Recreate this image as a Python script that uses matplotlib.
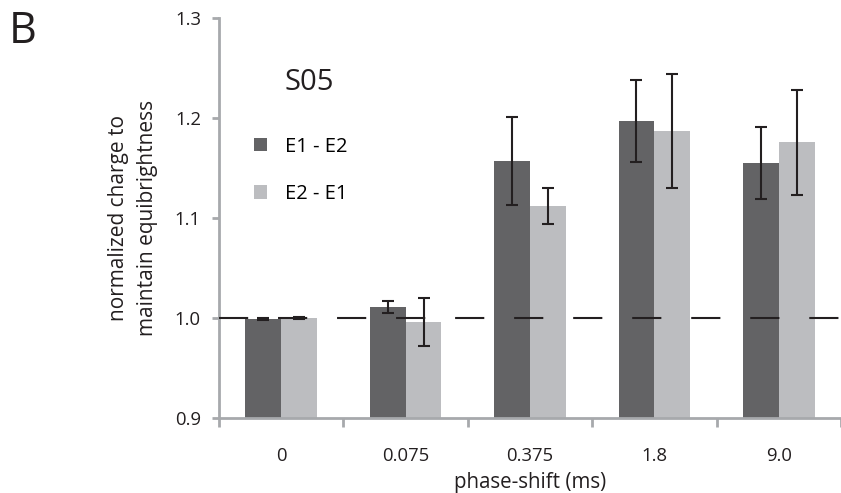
import matplotlib
matplotlib.use("Agg")
import matplotlib.pyplot as plt
import numpy as np

plt.rcParams['font.family'] = ['Open Sans', 'DejaVu Sans']
plt.rcParams['lines.scale_dashes'] = False

phase_shift = ['0', '0.075', '0.375', '1.8', '9.0']
e1_e2 = [0.999, 1.011, 1.157, 1.197, 1.155]
e1_e2_err = [0.001, 0.006, 0.044, 0.041, 0.036]
e2_e1 = [1.000, 0.996, 1.112, 1.187, 1.176]
e2_e1_err = [0.001, 0.0235, 0.018, 0.057, 0.0525]

dark = '#636365'
light = '#bcbdc0'
axcol = '#a7a9ac'
ink = '#231f20'

fig = plt.figure(figsize=(8.41, 4.93), dpi=100)
ax = fig.add_axes([219 / 841, 1 - 418 / 493, 622 / 841, 400 / 493])

x = np.arange(len(phase_shift))
w = 0.288
errkw = dict(ecolor=ink, elinewidth=1.5, capsize=4, capthick=1.5)
b1 = ax.bar(x - w / 2, e1_e2, w, yerr=e1_e2_err, color=dark, error_kw=errkw,
            label='E1 - E2', zorder=2)
b2 = ax.bar(x + w / 2, e2_e1, w, yerr=e2_e1_err, color=light, error_kw=errkw,
            label='E2 - E1', zorder=2)

# reference level
ax.axhline(1.0, color=ink, lw=1.5, dashes=(21, 21.5), zorder=3)

ax.set_ylim(0.9, 1.3)
ax.set_xlim(-0.5, -0.5 + 622 / 125)
ax.set_yticks([0.9, 1.0, 1.1, 1.2, 1.3])
ax.set_yticklabels(['0.9', '1.0', '1.1', '1.2', '1.3'])
ax.set_xticks(x)
ax.set_xticklabels(phase_shift)
ax.set_xticks(np.arange(-0.5, 4.6, 1.0), minor=True)

for s in ['top', 'right']:
    ax.spines[s].set_visible(False)
for s in ['left', 'bottom']:
    ax.spines[s].set_color(axcol)
    ax.spines[s].set_linewidth(2)
ax.tick_params(axis='y', direction='out', length=5, width=2, color=axcol,
               labelsize=13.3, labelcolor=ink, pad=8)
ax.tick_params(axis='x', which='major', length=0, labelsize=13.3, labelcolor=ink, pad=21)
ax.tick_params(axis='x', which='minor', direction='out', length=6.5, width=2, color=axcol)

ax.set_xlabel('phase-shift (ms)', fontsize=14.8, color=ink, labelpad=5)
ax.set_ylabel('normalized charge to\nmaintain equibrightness', fontsize=15,
              color=ink, labelpad=12, linespacing=1.5)

ax.text(0.105, 0.82, 'S05', transform=ax.transAxes, fontsize=21, color=ink)
ax.legend(handles=[b1, b2], loc='center left', bbox_to_anchor=(0.056, 0.619),
          frameon=False, fontsize=14.5, handlelength=0.65, handleheight=0.65,
          handletextpad=0.9, labelspacing=1.35, borderpad=0, borderaxespad=0)

fig.text(9 / 841, 1 - 43 / 493, 'B', fontsize=31, color=ink)

fig.savefig('out.png', dpi=100)
